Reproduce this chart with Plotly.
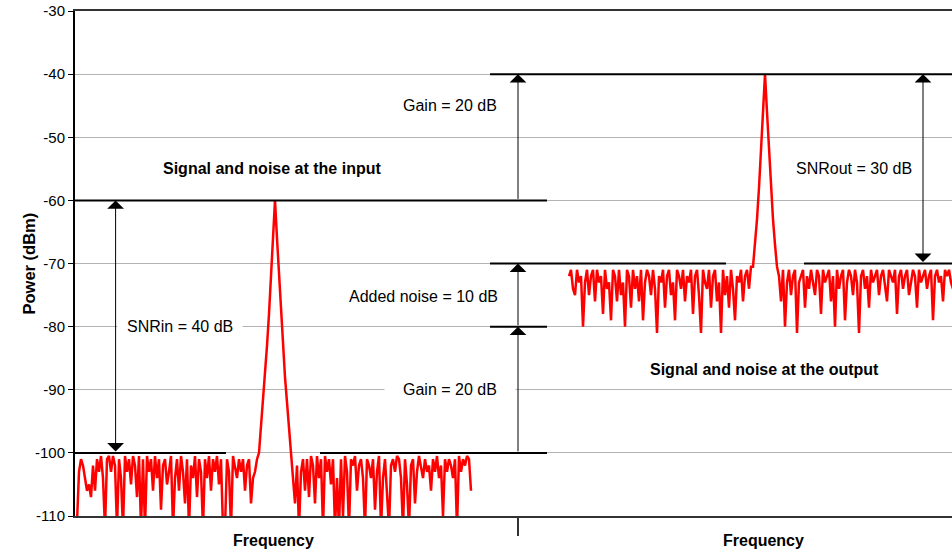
import numpy as np
import plotly.graph_objects as go

# ---------------- data ----------------
Y_TICKS = [-110, -100, -90, -80, -70, -60, -50, -40, -30]
Y_TICK_TEXT = ["-110", "-100", "-90", "-80", "-70", "-60", "-50", "-40", "-30"]

# input spectrum (dBm), frequency bins
IN_PEAK_BIN = 100
IN_LEFT_NOISE = [
    -112, -111, -103, -101, -102, -104, -106, -105, -107, -102, -106, -101,
    -103, -100.5, -104, -112, -101, -100.5, -103, -100.5, -102, -112, -101, -104,
    -112, -100.5, -103, -101, -105, -100.5, -102, -107, -100.5, -112, -101, -112,
    -100.5, -103, -101, -106, -100.5, -104, -101, -109, -102, -101, -105, -103,
    -100.5, -112, -104, -101, -106, -100.5, -103, -108, -101, -112, -102, -104,
    -100.5, -107, -101, -103, -112, -101, -104, -100.5, -106, -101, -103, -100.5,
    -105, -101, -112, -112, -101, -103, -112, -100.5, -102, -104, -101, -103,
    -101, -106, -102, -101, -108, -104, -103, -101,
]
IN_PEAK = [-100, -96, -92, -88, -83, -78, -72, -66, -60,
           -66, -72, -78, -83, -88, -92, -96, -100]
IN_RIGHT_NOISE = [
    -104, -108, -102, -112, -103, -101, -106, -101, -107, -100.5, -102, -108,
    -100.5, -104, -101, -112, -100.5, -103, -101, -105, -101, -112, -104, -112,
    -101, -110, -100.5, -103, -112, -101, -102, -100.5, -106, -102, -101, -104,
    -112, -101, -102, -104, -101, -109, -103, -100.5, -112, -104, -101, -106,
    -112, -102, -101, -103, -100.5, -101, -104, -112, -101, -105, -112, -102,
    -101, -108, -103, -100.5, -102, -104, -101, -103, -102, -106, -101, -103,
    -100.5, -104, -102, -110, -101, -103, -101, -102, -104, -101, -112, -100.5,
    -103, -101, -102, -100.5, -101, -106,
]

# output spectrum (dBm)
OUT_PEAK_BIN = 345
OUT_LEFT_NOISE = [
    -72, -71, -74, -75, -71, -73, -72, -80, -73, -71, -75, -72, -71, -76, -71,
    -73, -72, -78, -71, -74, -73, -79, -71, -72, -76, -71, -75, -73, -80, -71,
    -72, -77, -71, -74, -72, -76, -71, -79, -73, -71, -72, -75, -71, -74, -81,
    -72, -73, -71, -77, -72, -71, -75, -73, -79, -71, -72, -74, -71, -76, -72,
    -73, -71, -78, -72, -71, -75, -81, -71, -73, -74, -71, -77, -72, -71, -76,
    -73, -81, -71, -75, -72, -77, -71, -74, -79, -72, -73, -71, -76, -72, -71,
    -74, -70.5,
]
OUT_PEAK = [-70.5, -67, -63, -58, -52, -46, -40, -46, -52, -58, -63, -67, -70.5]
OUT_RIGHT_NOISE = [
    -72, -76, -71, -80, -73, -71, -75, -72, -71, -81, -73, -72, -71, -77, -72,
    -74, -71, -73, -75, -71, -72, -78, -71, -73, -72, -71, -76, -72, -80, -71,
    -74, -72, -71, -79, -73, -71, -72, -75, -71, -73, -81, -72, -71, -74, -72,
    -77, -71, -73, -72, -71, -75, -72, -71, -74, -76, -71, -72, -73, -71, -78,
    -72, -71, -74, -72, -71, -75, -73, -71, -72, -77, -71, -73, -72, -71, -74,
    -72, -71, -79, -72, -71, -73, -72, -76, -71, -72, -71, -73, -74, -71, -72,
    -73,
]

# levels (dBm)
SIG_IN, NOISE_IN = -60, -100
SIG_OUT, NOISE_OUT = -40, -70
GAIN_NOISE = -80

# frequency extents (bins)
X_MAX = 438.5
MID = 221.5
IN_LINE_END = 236
OUT_LINE_START = 207.5
NOISE_IN_GAP = (75.5, 122.5)
NOISE_OUT_GAP = (325.5, 364.5)
SNR_IN_X = 20.3
SNR_OUT_X = 424

FONT = "Liberation Sans, Arial, sans-serif"

# ---------------- build ----------------
in_y = IN_LEFT_NOISE + IN_PEAK + IN_RIGHT_NOISE
in_start = IN_PEAK_BIN - len(IN_LEFT_NOISE) - len(IN_PEAK) // 2
in_x = in_start + np.arange(len(in_y))

out_y = OUT_LEFT_NOISE + OUT_PEAK + OUT_RIGHT_NOISE
out_start = OUT_PEAK_BIN - len(OUT_LEFT_NOISE) - len(OUT_PEAK) // 2
out_x = out_start + np.arange(len(out_y))

fig = go.Figure()
for xs, ys in [(in_x, in_y), (out_x, out_y)]:
    fig.add_trace(go.Scatter(x=xs, y=ys, mode="lines",
                             line=dict(color="#ff0000", width=2.5),
                             showlegend=False, hoverinfo="skip"))

def hline(y, x0, x1):
    fig.add_shape(type="line", xref="x", yref="y", x0=x0, x1=x1, y0=y, y1=y,
                  line=dict(color="black", width=2), layer="above")

hline(SIG_IN, 0, IN_LINE_END)
hline(NOISE_IN, 0, NOISE_IN_GAP[0])
hline(NOISE_IN, NOISE_IN_GAP[1], IN_LINE_END)
hline(SIG_OUT, OUT_LINE_START, X_MAX + 5)
hline(NOISE_OUT, OUT_LINE_START, NOISE_OUT_GAP[0])
hline(NOISE_OUT, NOISE_OUT_GAP[1], X_MAX + 5)
hline(GAIN_NOISE, OUT_LINE_START, IN_LINE_END)

anns = []

def label(text, x, y, bold=False, bg=None, pad=0):
    anns.append(dict(x=x, y=y, xref="x", yref="y", showarrow=False,
                     text=f"<b>{text}</b>" if bold else text,
                     font=dict(family=FONT, size=16, color="black"),
                     bgcolor=bg, borderpad=pad, xanchor="center", yanchor="middle"))

label("Gain = 20 dB", 187.5, -45)
label("Signal and noise at the input", 98.7, -55, bold=True)
label("SNRin = 40 dB", 52.3, -80, bg="white", pad=9)
label("Added noise = 10 dB", 174, -75.2)
label("Gain = 20 dB", 187.5, -90, bg="white", pad=18)
label("SNRout = 30 dB", 389.5, -55)
label("Signal and noise at the output", 344.5, -86.8, bold=True)

def arrow(x, y_from, y_to, both=False):
    anns.append(dict(x=x, y=y_to, ax=x, ay=y_from, xref="x", yref="y",
                     axref="x", ayref="y", text="", showarrow=True,
                     arrowhead=1, arrowsize=2.8, arrowwidth=1, arrowcolor="black",
                     arrowside="end+start" if both else "end",
                     startarrowhead=1, startarrowsize=2.8,
                     standoff=0, startstandoff=0))

arrow(MID, SIG_IN, SIG_OUT)
arrow(MID, NOISE_IN, GAIN_NOISE)
arrow(MID, GAIN_NOISE, NOISE_OUT)
arrow(SNR_IN_X, NOISE_IN, SIG_IN, both=True)
arrow(SNR_OUT_X, NOISE_OUT, SIG_OUT, both=True)

for fx in [99, 344]:
    anns.append(dict(x=fx, y=-0.048, xref="x", yref="paper", showarrow=False,
                     text="<b>Frequency</b>", yanchor="middle",
                     font=dict(family=FONT, size=16, color="black")))
anns.append(dict(x=-0.065, y=0.5, xref="paper", yref="paper", showarrow=False,
                 text="<b>Power (dBm)</b>", textangle=-90,
                 font=dict(family=FONT, size=16.5, color="black")))

fig.update_layout(
    width=952, height=552,
    margin=dict(l=75, r=0, t=11, b=36),
    paper_bgcolor="white", plot_bgcolor="white",
    annotations=anns,
    font=dict(family=FONT, color="black"),
    xaxis=dict(range=[0, X_MAX], showgrid=False, zeroline=False,
               showline=True, linecolor="#333333", linewidth=2, mirror=True,
               tickmode="array", tickvals=[MID], ticks="outside", ticklen=18,
               tickcolor="#333333", tickwidth=2, showticklabels=False),
    yaxis=dict(range=[-110, -30], tickmode="array", tickvals=Y_TICKS,
               ticktext=Y_TICK_TEXT,
               showgrid=True, gridcolor="#b4b4b4", gridwidth=1, zeroline=False,
               showline=True, linecolor="black", linewidth=2,
               ticks="outside", ticklen=5, tickcolor="black",
               tickfont=dict(family=FONT, size=15, color="black")),
)

fig.write_html("out.html",
               config={"displayModeBar": False},
               post_script="document.body.style.margin='0';document.body.style.overflow='hidden';")
